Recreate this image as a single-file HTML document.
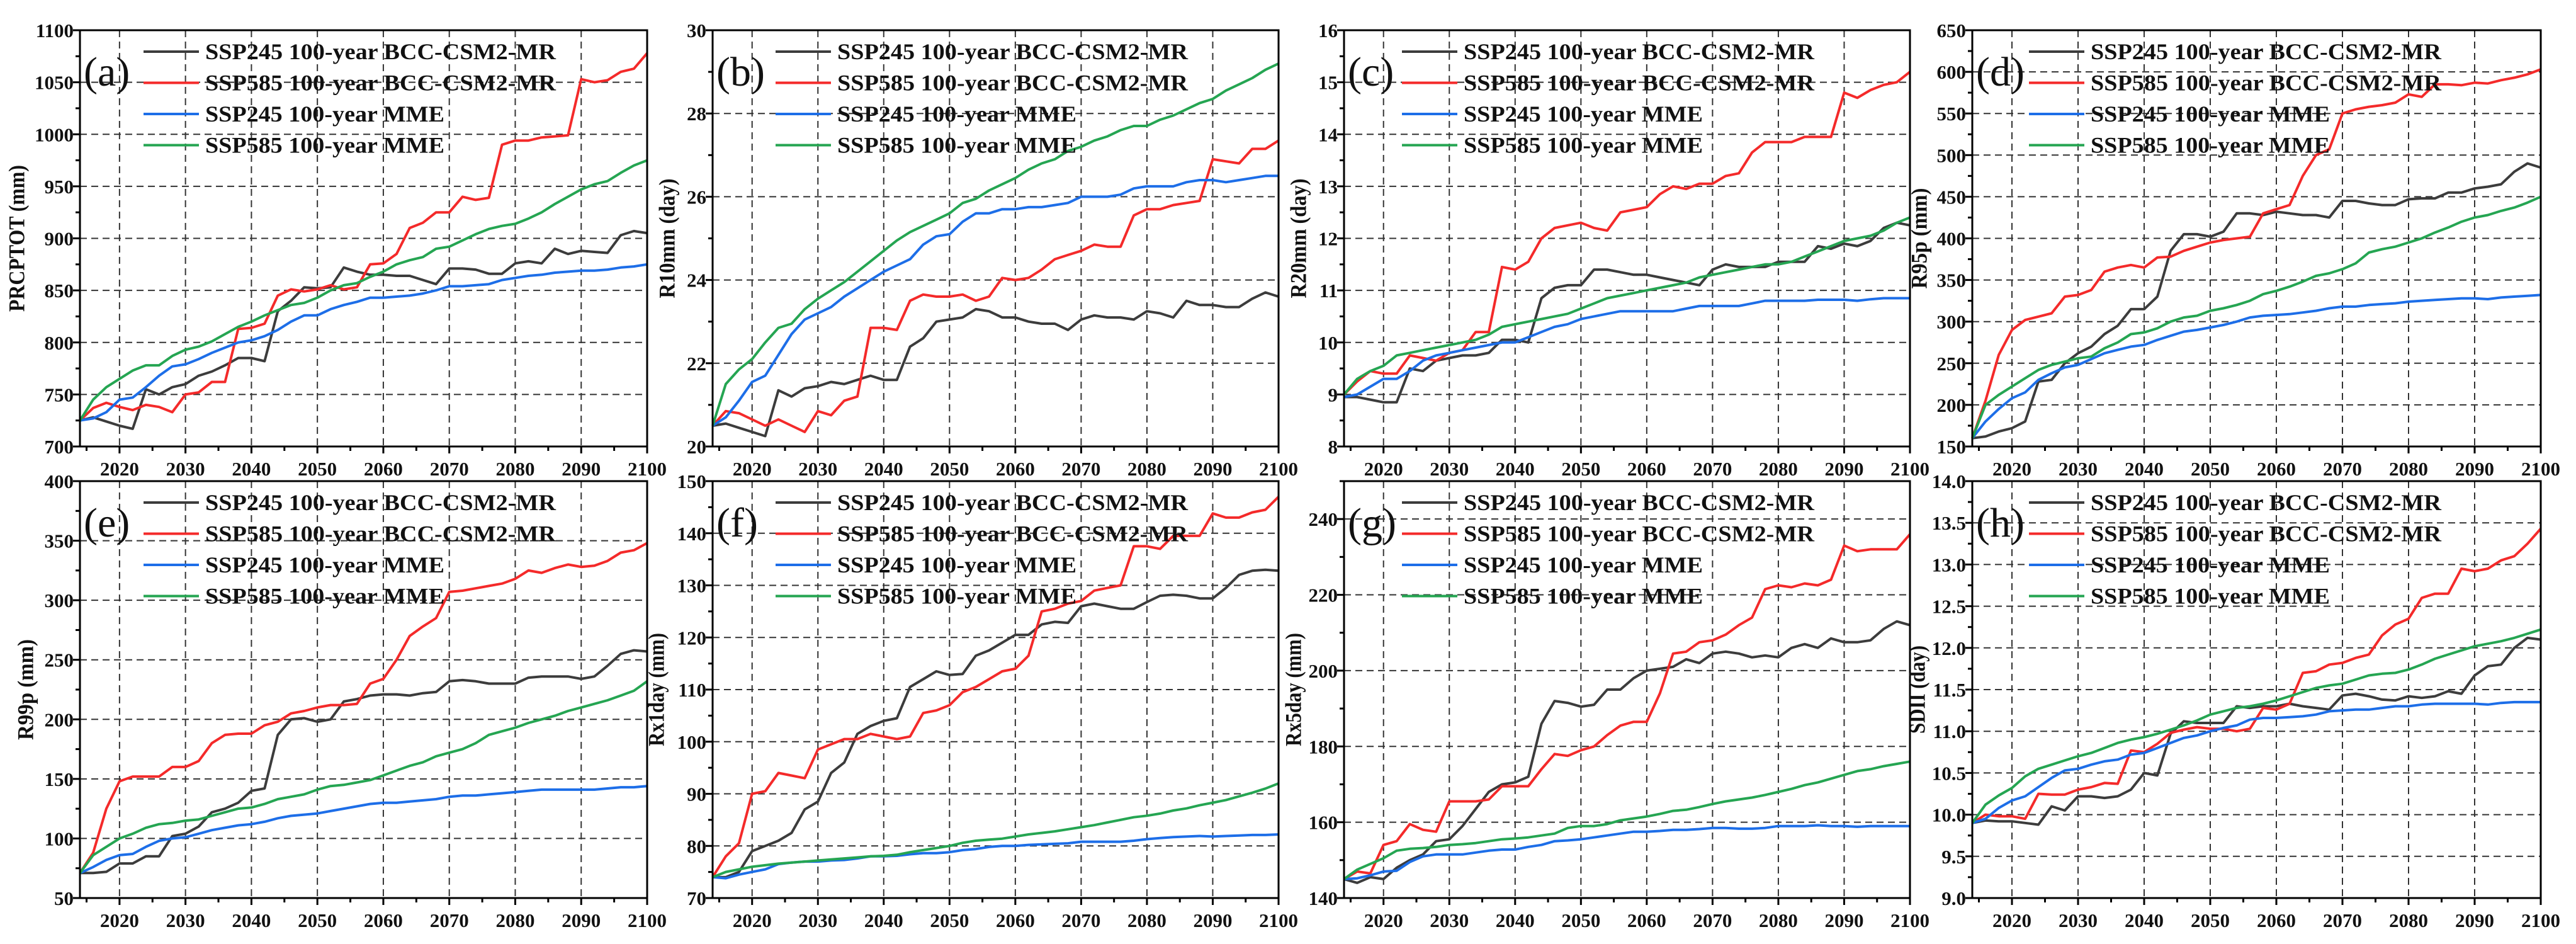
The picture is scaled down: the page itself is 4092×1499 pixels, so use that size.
<!DOCTYPE html>
<html><head><meta charset="utf-8">
<style>
html,body{margin:0;padding:0;background:#fff;}
svg{display:block;font-family:"Liberation Serif",serif;}
</style></head>
<body>
<svg id="fig" width="4092" height="1499" viewBox="0 0 4092 1499" xmlns="http://www.w3.org/2000/svg"></svg>
<script>
const years = [2014,2016,2018,2020,2022,2024,2026,2028,2030,2032,2034,2036,2038,2040,2042,2044,2046,2048,2050,2052,2054,2056,2058,2060,2062,2064,2066,2068,2070,2072,2074,2076,2078,2080,2082,2084,2086,2088,2090,2092,2094,2096,2098,2100];
const seriesNames = ["SSP245 100-year BCC-CSM2-MR","SSP585 100-year BCC-CSM2-MR","SSP245 100-year MME","SSP585 100-year MME"];
const panelLetters = ["(a)","(b)","(c)","(d)","(e)","(f)","(g)","(h)"];
const yTitles = ["PRCPTOT (mm)","R10mm (day)","R20mm (day)","R95p (mm)","R99p (mm)","Rx1day (mm)","Rx5day (mm)","SDII (day)"];
const xTicks = [2020,2030,2040,2050,2060,2070,2080,2090,2100];

const aBlack=[725,728,724,720,717,755,750,757,760,768,772,778,785,785,782,830,840,853,852,853,872,868,865,865,864,864,860,856,871,871,870,866,866,876,878,876,890,885,888,887,886,903,907,905];
const aRed=[725,737,742,738,735,740,738,733,750,752,762,762,813,814,818,845,851,849,851,855,851,853,875,876,885,910,915,925,925,940,937,939,990,994,994,997,998,999,1053,1050,1052,1060,1063,1078];
const aBlue=[725,727,733,745,747,757,768,777,779,784,790,795,800,802,806,812,820,826,826,832,836,839,843,843,844,845,847,850,854,854,855,856,860,862,864,865,867,868,869,869,870,872,873,875];
const aGreen=[725,745,757,765,773,778,778,787,793,796,801,808,815,820,826,831,836,838,843,850,855,857,863,868,875,879,882,890,892,898,904,909,912,914,919,925,933,940,947,952,955,963,970,975];
const bBlack=[20.5,20.55,20.45,20.35,20.25,21.35,21.2,21.4,21.45,21.55,21.5,21.6,21.7,21.6,21.6,22.4,22.6,23.0,23.05,23.1,23.3,23.25,23.1,23.1,23.0,22.95,22.95,22.8,23.05,23.15,23.1,23.1,23.05,23.25,23.2,23.1,23.5,23.4,23.4,23.35,23.35,23.55,23.7,23.6];
const bRed=[20.5,20.85,20.8,20.65,20.5,20.65,20.5,20.35,20.85,20.75,21.1,21.2,22.85,22.85,22.8,23.5,23.65,23.6,23.6,23.65,23.5,23.6,24.05,24.0,24.05,24.25,24.5,24.6,24.7,24.85,24.8,24.8,25.55,25.7,25.7,25.8,25.85,25.9,26.9,26.85,26.8,27.15,27.15,27.35];
const bBlue=[20.5,20.7,21.1,21.55,21.7,22.2,22.7,23.05,23.2,23.35,23.6,23.8,24.0,24.2,24.35,24.5,24.85,25.05,25.1,25.4,25.6,25.6,25.7,25.7,25.75,25.75,25.8,25.85,26.0,26.0,26.0,26.05,26.2,26.25,26.25,26.25,26.35,26.4,26.4,26.35,26.4,26.45,26.5,26.5];
const bGreen=[20.5,21.5,21.85,22.1,22.5,22.85,22.95,23.3,23.55,23.75,23.95,24.2,24.45,24.7,24.95,25.15,25.3,25.45,25.6,25.85,25.95,26.15,26.3,26.45,26.65,26.8,26.9,27.1,27.2,27.35,27.45,27.6,27.7,27.7,27.85,27.95,28.1,28.25,28.35,28.55,28.7,28.85,29.05,29.2];
const cBlack=[8.95,8.95,8.9,8.85,8.85,9.5,9.45,9.65,9.7,9.75,9.75,9.8,10.05,10.05,10.0,10.85,11.05,11.1,11.1,11.4,11.4,11.35,11.3,11.3,11.25,11.2,11.15,11.1,11.4,11.5,11.45,11.45,11.45,11.55,11.55,11.55,11.85,11.8,11.9,11.85,11.95,12.2,12.3,12.25];
const cRed=[9.0,9.25,9.45,9.4,9.4,9.75,9.7,9.65,9.8,9.85,10.2,10.2,11.45,11.4,11.55,12.0,12.2,12.25,12.3,12.2,12.15,12.5,12.55,12.6,12.85,13.0,12.95,13.05,13.05,13.2,13.25,13.65,13.85,13.85,13.85,13.95,13.95,13.95,14.8,14.7,14.85,14.95,15.0,15.2];
const cBlue=[8.95,9.0,9.15,9.3,9.3,9.45,9.65,9.75,9.8,9.85,9.9,9.95,10.0,10.0,10.1,10.2,10.3,10.35,10.45,10.5,10.55,10.6,10.6,10.6,10.6,10.6,10.65,10.7,10.7,10.7,10.7,10.75,10.8,10.8,10.8,10.8,10.82,10.82,10.82,10.8,10.83,10.85,10.85,10.85];
const cGreen=[9.0,9.3,9.45,9.55,9.75,9.8,9.85,9.9,9.95,10.0,10.05,10.15,10.3,10.35,10.4,10.45,10.5,10.55,10.65,10.75,10.85,10.9,10.95,11.0,11.05,11.1,11.15,11.25,11.3,11.35,11.4,11.45,11.5,11.5,11.55,11.65,11.75,11.85,11.95,12.0,12.05,12.15,12.3,12.4];
const dBlack=[160,162,168,172,180,228,230,250,262,270,285,295,315,315,330,385,405,405,402,408,430,430,428,432,430,428,428,425,445,445,442,440,440,447,448,448,455,455,460,462,465,480,490,485];
const dRed=[160,205,260,290,302,306,310,330,332,338,360,365,368,365,377,378,385,390,395,398,400,402,430,435,440,475,500,507,550,555,558,560,563,573,570,585,585,584,587,586,590,593,597,603];
const dBlue=[160,180,195,208,215,230,238,245,248,255,262,266,270,272,278,283,288,290,293,296,300,305,307,308,309,311,313,316,318,318,320,321,322,324,325,326,327,328,328,327,329,330,331,332];
const dGreen=[160,200,212,222,232,242,248,252,256,258,268,275,285,287,292,300,305,307,313,316,320,325,333,337,342,348,355,358,363,370,383,387,390,395,400,407,413,420,425,428,433,437,443,450];
const eBlack=[71,71,72,79,79,85,85,102,104,110,122,125,130,140,142,187,200,201,198,200,215,217,220,221,221,220,222,223,232,233,232,230,230,230,235,236,236,236,234,236,245,255,258,257];
const eRed=[71,88,125,148,152,152,152,160,160,165,180,187,188,188,195,198,205,207,210,212,212,213,230,234,250,270,278,285,307,308,310,312,314,318,325,323,327,330,328,329,333,340,342,348];
const eBlue=[71,76,82,86,87,93,98,100,101,104,107,109,111,112,114,117,119,120,121,123,125,127,129,130,130,131,132,133,135,136,136,137,138,139,140,141,141,141,141,141,142,143,143,144];
const eGreen=[71,86,93,100,104,109,112,113,115,116,119,122,125,126,129,133,135,137,141,144,145,147,149,153,157,161,164,169,172,175,180,187,190,193,197,200,203,207,210,213,216,220,224,232];
const fBlack=[74,74,75,79,80,81,82.5,87,88.5,94,96,101.5,103,104,104.5,110.5,112,113.5,112.8,113,116.5,117.5,119,120.5,120.5,122.5,123,122.8,126,126.5,126,125.5,125.5,126.8,128,128.2,128,127.5,127.5,129.5,132,132.8,133,132.8];
const fRed=[74,78,80.5,90,90.5,94,93.5,93,98.5,99.5,100.5,100.5,101.5,101,100.5,101,105.5,106,107,109.5,110.5,112,113.5,114,116.5,125,125.5,126.5,127,129,129.5,130,137.5,137.5,137,139.5,139.5,139.5,143.8,143,143,144,144.5,147];
const fBlue=[74,73.8,74.5,75,75.5,76.5,76.8,77,77,77.2,77.3,77.6,78,78,78.1,78.4,78.6,78.6,78.8,79.2,79.4,79.8,80,80,80.2,80.3,80.4,80.5,80.8,80.8,80.8,80.8,81,81.3,81.5,81.7,81.8,81.9,81.8,81.9,82,82.1,82.1,82.2];
const fGreen=[74,75,75.5,76,76.3,76.6,76.8,77,77.2,77.4,77.6,77.8,78,78.1,78.3,78.8,79.2,79.6,80,80.6,81,81.2,81.4,81.8,82.2,82.5,82.8,83.2,83.6,84,84.5,85,85.5,85.8,86.2,86.8,87.2,87.8,88.3,88.8,89.5,90.2,91,92];
const gBlack=[145,144,145.5,145,148,150,151.5,155,155.5,159,163.5,168,170,170.5,172,186,192,191.5,190.5,191,195,195,198,200,200.5,201,203,202,204.5,205,204.5,203.5,204,203.5,206,207,206,208.5,207.5,207.5,208,211,213,212];
const gRed=[145,147,146.5,154,155,159.5,158,157.5,165.5,165.5,165.5,166,169.5,169.5,169.5,174,178,177.5,179,180,183,185.5,186.5,186.5,194,204.5,205,207.5,208,209.5,212,214,221.5,222.5,222,223,222.5,224,233,231.5,232,232,232,236];
const gBlue=[145,145.2,146,147,147.2,149.5,151,151.5,151.5,151.5,152,152.5,152.8,152.8,153.5,154,155,155.2,155.5,156,156.5,157,157.5,157.5,157.7,158,158,158.2,158.5,158.5,158.3,158.3,158.5,159,159,159,159.2,159,159,158.8,159,159,159,159];
const gGreen=[145,147.5,149,150.5,152.5,153,153.2,153.5,154,154.2,154.5,155,155.5,155.7,156,156.5,157,158.5,159,159,159.5,160.5,161,161.5,162.2,163,163.3,164,164.8,165.5,166,166.5,167.2,168,168.8,169.8,170.5,171.5,172.5,173.5,174,174.8,175.4,176];
const hBlack=[9.9,9.93,9.92,9.92,9.9,9.88,10.1,10.05,10.22,10.22,10.2,10.22,10.3,10.5,10.47,10.97,11.12,11.1,11.1,11.1,11.3,11.28,11.3,11.3,11.33,11.3,11.28,11.26,11.43,11.45,11.42,11.38,11.37,11.42,11.4,11.42,11.48,11.45,11.67,11.78,11.8,12.0,12.12,12.1];
const hRed=[9.9,10.0,9.98,9.98,9.95,10.25,10.24,10.24,10.3,10.33,10.38,10.37,10.77,10.75,10.85,10.98,11.02,11.05,11.03,11.03,11.0,11.03,11.28,11.26,11.33,11.7,11.72,11.8,11.82,11.88,11.92,12.15,12.28,12.35,12.6,12.65,12.65,12.95,12.92,12.95,13.05,13.1,13.25,13.43];
const hBlue=[9.9,9.95,10.08,10.17,10.22,10.33,10.44,10.53,10.55,10.6,10.64,10.66,10.72,10.74,10.8,10.86,10.92,10.95,11.0,11.04,11.07,11.14,11.16,11.16,11.17,11.18,11.2,11.24,11.25,11.26,11.26,11.28,11.3,11.3,11.32,11.33,11.33,11.33,11.33,11.32,11.34,11.35,11.35,11.35];
const hGreen=[9.9,10.12,10.23,10.32,10.46,10.55,10.6,10.65,10.7,10.74,10.8,10.86,10.9,10.93,10.97,11.02,11.07,11.13,11.2,11.24,11.28,11.3,11.33,11.37,11.42,11.47,11.52,11.55,11.57,11.62,11.67,11.69,11.7,11.74,11.8,11.87,11.92,11.97,12.02,12.05,12.08,12.12,12.17,12.22];

const yMins=[700,20,8,150,50,70,140,9];
const yMaxs=[1100,30,16,650,400,150,250,14];
const yMajor=[50,2,1,50,50,10,20,0.5];
const yDecimals=[0,0,0,0,0,0,0,1];

const panelSeries=[[aBlack,aRed,aBlue,aGreen],[bBlack,bRed,bBlue,bGreen],[cBlack,cRed,cBlue,cGreen],[dBlack,dRed,dBlue,dGreen],[eBlack,eRed,eBlue,eGreen],[fBlack,fRed,fBlue,fGreen],[gBlack,gRed,gBlue,gGreen],[hBlack,hRed,hBlue,hGreen]];

const NS="http://www.w3.org/2000/svg";
const svg=document.getElementById('fig');
const colors=["#3c3c3c","#f42a2a","#1d6ee8","#25a552"];
const lefts=[127,1132,2135,3133], widths=[901,899,899,903];
const tops=[48,764], heights=[661,662];
const titleX=[30,1063,2066,3052,44,1046,2058,3049];
const titleLen=[233,190,190,160,160,180,180,140];

function mk(tag,attrs,parent){const e=document.createElementNS(NS,tag);for(const k in attrs)e.setAttribute(k,attrs[k]);(parent||svg).appendChild(e);return e;}

for(let p=0;p<8;p++){
  const col=p%4,row=Math.floor(p/4);
  const L=lefts[col],W=widths[col],T=tops[row],H=heights[row];
  const g=mk('g',{});
  
  
  const xs=y=>L+(y-2014)/(2100-2014)*W;
  const ys=v=>T+H-(v-yMins[p])/(yMaxs[p]-yMins[p])*H;
  for(const t of xTicks){
    if(t<2100){const gl=mk('line',{x1:xs(t),x2:xs(t),y1:T,y2:T+H,stroke:'#333','stroke-width':2,'stroke-dasharray':'11,7'},g);
    
    }
  }
  const nT=Math.round((yMaxs[p]-yMins[p])/yMajor[p]);
  for(let i=0;i<=nT;i++){
    const v=yMins[p]+i*yMajor[p];
    if(v>yMins[p]+1e-9&&v<yMaxs[p]-1e-9){
      const gl=mk('line',{x1:L,x2:L+W,y1:ys(v),y2:ys(v),stroke:'#333','stroke-width':2,'stroke-dasharray':'11,7'},g);
      
      
    }
  }
  for(let i=0;i<=nT*2;i++){
    const v=yMins[p]+i*yMajor[p]/2;
    if(v>yMaxs[p]+1e-9)break;
    const major=i%2===0;
    mk('line',{x1:L,x2:L-(major?11:7),y1:ys(v),y2:ys(v),stroke:'#000','stroke-width':3},g);
    if(major){
      const tx=mk('text',{x:L-10,y:ys(v)+11,'text-anchor':'end','font-size':31,'font-weight':'bold',fill:'#111'},g);
      tx.textContent=v.toFixed(yDecimals[p]);
      
      
    }
  }
  for(let yr=2015;yr<=2100;yr+=5){
    const major=yr%10===0;
    mk('line',{x1:xs(yr),x2:xs(yr),y1:T+H,y2:T+H+(major?11:7),stroke:'#000','stroke-width':3},g);
    if(major){
      const tx=mk('text',{x:xs(yr),y:T+H+46,'text-anchor':'middle','font-size':31,'font-weight':'bold',fill:'#111'},g);
      tx.textContent=String(yr);
      
      
    }
  }
  const yt=mk('text',{x:titleX[p],y:T+H/2,'text-anchor':'middle','font-size':36,'font-weight':'bold',fill:'#111',transform:'rotate(-90 '+titleX[p]+' '+(T+H/2)+')','dominant-baseline':'middle',textLength:titleLen[p],lengthAdjust:'spacingAndGlyphs'},g);
  yt.textContent=yTitles[p];
  
  
  panelSeries[p].forEach((arr,si)=>{
    let d='';
    for(let i=0;i<arr.length&&i<years.length;i++){d+=(i?'L':'M')+xs(years[i]).toFixed(1)+','+ys(arr[i]).toFixed(1);}
    const pl=mk('path',{d:d,fill:'none',stroke:colors[si],'stroke-width':4,'stroke-linejoin':'round'},g);
    
    
  });
  const fr=mk('rect',{x:L,y:T,width:W,height:H,fill:'none',stroke:'#000','stroke-width':3},g);
  
  
  const pt=mk('text',{x:L+6,y:T+88,'font-size':66,fill:'#111'},g);
  pt.textContent=panelLetters[p];
  
  
  const lg=mk('g',{},g);
  
  
  const legX=L+(col===0?101:(col===1?100:(col===2?92:90)));
  for(let si=0;si<4;si++){
    const cy=T+34+si*49.5;
    const ln=mk('line',{x1:legX,x2:legX+88,y1:cy,y2:cy,stroke:colors[si],'stroke-width':4},lg);
    
    
    const tx=mk('text',{x:legX+98,y:cy+12,'font-size':36,'font-weight':'bold',fill:'#111',textLength:si<2?557:380,lengthAdjust:'spacingAndGlyphs'},lg);
    tx.textContent=seriesNames[si];
    
    
  }
}
</script>
</body></html>
